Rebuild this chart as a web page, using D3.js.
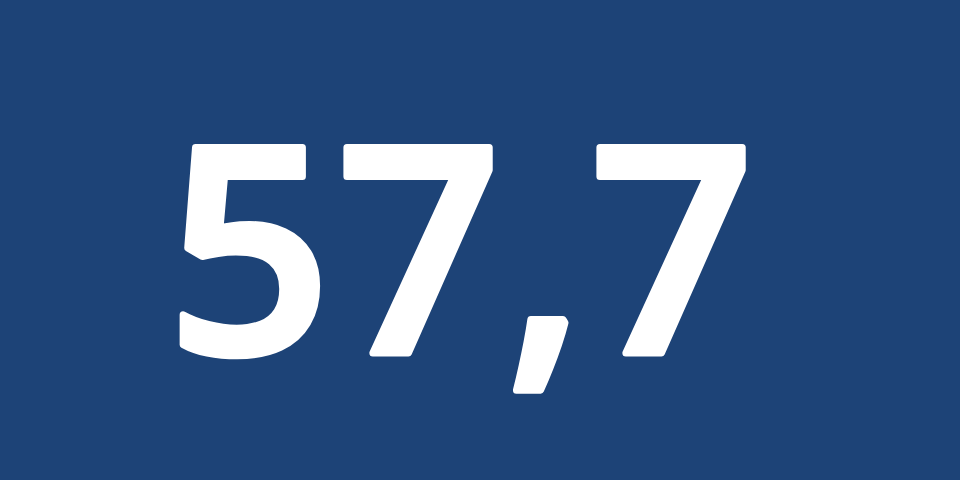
<!DOCTYPE html>
<html><head><meta charset="utf-8">
<script src="https://cdn.jsdelivr.net/npm/d3@7"></script>
<style>html,body{margin:0;padding:0;background:#1d4377;}</style>
</head><body>
<script>
const values = [57.7];
const labels = ["value"];
const W = 960, H = 480;
const locale = d3.formatLocale({decimal: ",", thousands: ".", grouping: [3], currency: ["", " €"]});
const fmt = locale.format(".1f");
const svg = d3.select("body").append("svg").attr("width", W).attr("height", H);
svg.append("rect").attr("width", W).attr("height", H).attr("fill", "#1d4377");
svg.selectAll("text.big").data(values).join("text")
  .attr("class", "big")
  .attr("x", 463).attr("y", 353)
  .attr("text-anchor", "middle")
  .attr("font-family", "'Open Sans', sans-serif")
  .attr("font-weight", 600)
  .attr("font-size", 288)
  .attr("letter-spacing", 5)
  .attr("fill", "#ffffff")
  .attr("stroke", "#ffffff")
  .attr("stroke-width", 7)
  .attr("stroke-linejoin", "round")
  .text(d => fmt(d));
</script>
</body></html>
